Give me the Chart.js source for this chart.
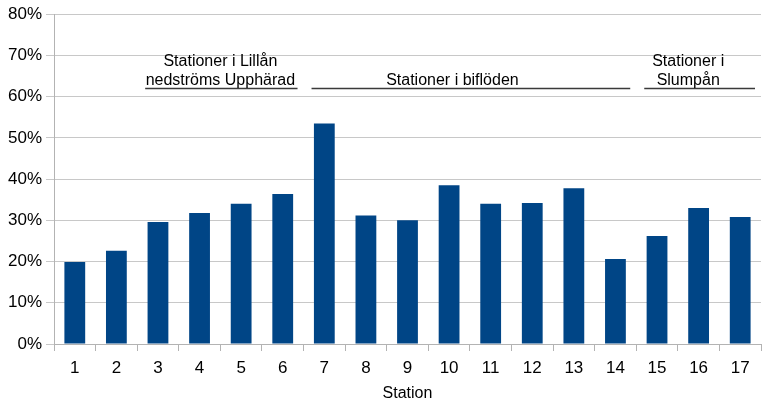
<!DOCTYPE html>
<html>
<head>
<meta charset="utf-8">
<script src="https://cdn.jsdelivr.net/npm/chart.js@4.4.1/dist/chart.umd.min.js"></script>
<style>
  html, body { margin: 0; padding: 0; background: #ffffff; }
  #wrap { width: 762px; height: 401px; position: relative; }
</style>
</head>
<body>
<div id="wrap"><canvas id="c"></canvas></div>
<script>
// ---- Data ----
const stations = ["1","2","3","4","5","6","7","8","9","10","11","12","13","14","15","16","17"];
const values = [19.9, 22.6, 29.6, 31.8, 34.0, 36.4, 53.5, 31.2, 30.0, 38.5, 34.0, 34.2, 37.8, 20.6, 26.2, 33.0, 30.8];
const yTicks = [0, 10, 20, 30, 40, 50, 60, 70, 80];
const xTitle = "Station";

// Group annotations (station numbers)
const groupTexts = [["Stationer i Lillån", "nedströms Upphärad"], ["Stationer i biflöden"], ["Stationer i", "Slumpån"]];
const groupFirst = [3, 7, 15];
const groupLast = [6, 14, 17];
const groupTextCenter = [4.5, 10.08, 15.75];
const groupLineValue = 62;

const FONT = "'Liberation Sans', Arial, sans-serif";

const groupPlugin = {
  id: 'groups',
  afterDatasetsDraw(chart) {
    const ctx = chart.ctx;
    const xs = chart.scales.x, ys = chart.scales.y;
    const half = (xs.getPixelForValue(1) - xs.getPixelForValue(0)) / 2;
    const ly = Math.round(ys.getPixelForValue(groupLineValue)) + 0.5;
    ctx.save();
    for (let g = 0; g < groupTexts.length; g++) {
      const x0 = xs.getPixelForValue(groupFirst[g] - 1) - half + 8;
      const x1 = xs.getPixelForValue(groupLast[g] - 1) + half - 6;
      ctx.strokeStyle = '#3a3a3a';
      ctx.lineWidth = 1.6;
      ctx.beginPath();
      ctx.moveTo(x0, ly);
      ctx.lineTo(x1, ly);
      ctx.stroke();
      const tc = groupTextCenter[g] - 1;
      const cx = xs.getPixelForValue(Math.floor(tc)) + (tc - Math.floor(tc)) * 2 * half;
      ctx.fillStyle = '#000';
      ctx.font = "16px " + FONT;
      ctx.textAlign = 'center';
      ctx.textBaseline = 'alphabetic';
      const lines = groupTexts[g];
      for (let i = 0; i < lines.length; i++) {
        const fromBottom = lines.length - 1 - i;
        ctx.fillText(lines[i], cx, ly - 4 - fromBottom * 18.5);
      }
    }
    ctx.restore();
  }
};

new Chart(document.getElementById('c'), {
  type: 'bar',
  data: {
    labels: stations,
    datasets: [{
      data: values,
      backgroundColor: '#004586',
      borderWidth: 0,
      barPercentage: 0.5,
      categoryPercentage: 1.0
    }]
  },
  options: {
    responsive: true,
    maintainAspectRatio: false,
    animation: false,
    devicePixelRatio: 1,
    layout: { padding: { left: 0, right: 1, top: 13, bottom: 0 } },
    plugins: {
      legend: { display: false },
      tooltip: { enabled: false },
      title: { display: false }
    },
    scales: {
      x: {
        grid: {
          display: true,
          drawOnChartArea: false,
          drawTicks: true,
          tickLength: 7,
          color: '#b3b3b3',
          offset: true
        },
        border: { display: true, color: '#b3b3b3', width: 1 },
        ticks: {
          color: '#000',
          font: { family: FONT, size: 17 },
          padding: 7,
          maxRotation: 0,
          autoSkip: false
        },
        title: {
          display: true,
          text: xTitle,
          color: '#000',
          font: { family: FONT, size: 16, lineHeight: 0.9 },
          padding: { top: 3, bottom: 0 }
        },
        afterFit(scale) { scale.height = 57; }
      },
      y: {
        min: 0,
        max: 80,
        afterBuildTicks(scale) { scale.ticks = yTicks.map(v => ({ value: v })); },
        grid: {
          color: '#c8c8c8',
          lineWidth: 1,
          drawTicks: true,
          tickLength: 8
        },
        border: { display: true, color: '#b3b3b3', width: 1 },
        ticks: {
          color: '#000',
          font: { family: FONT, size: 17 },
          padding: 4,
          callback: v => v + '%'
        },
        afterFit(scale) { scale.width = 54; }
      }
    }
  },
  plugins: [groupPlugin]
});
</script>
</body>
</html>
